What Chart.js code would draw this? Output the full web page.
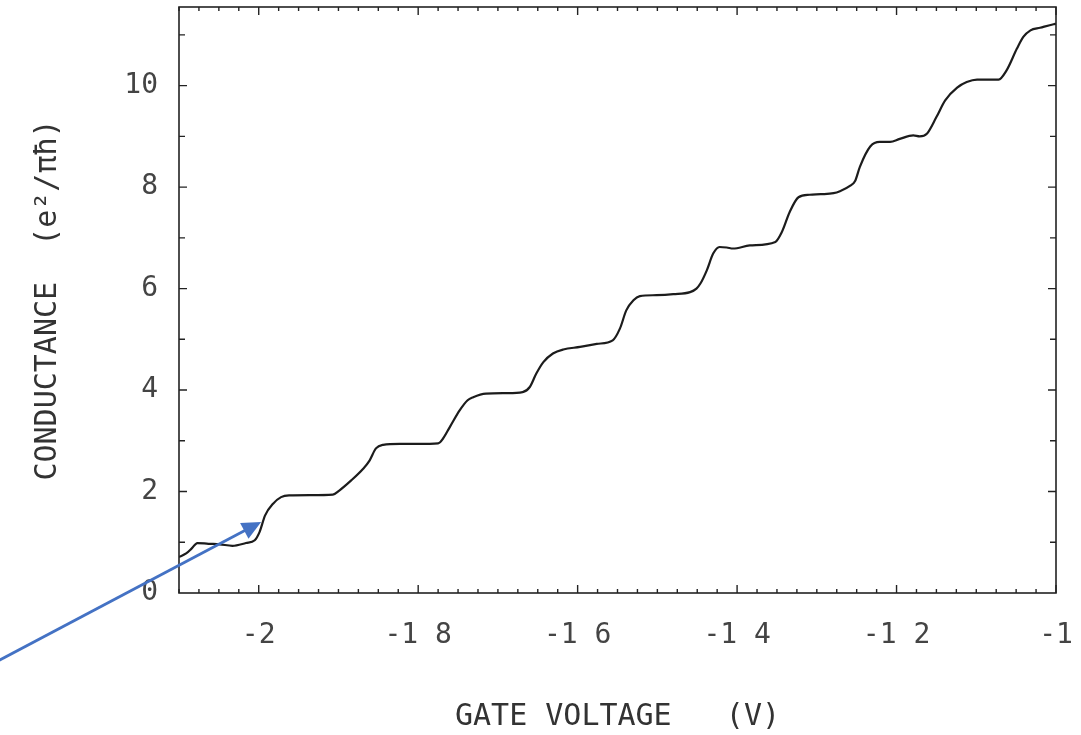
<!DOCTYPE html>
<html lang="en">

<head>
    <meta charset="UTF-8">
    <title>Conductance vs gate voltage</title>
    <script src="https://cdn.jsdelivr.net/npm/chart.js"></script>
    <style>
        body { margin: 0; background: #fff; }
    </style>
</head>

<body>
    <canvas id="ChartConductance" width="1081" height="735"></canvas>
</body>

</html>
<script>

    // values
    const gateVoltage = [
        -2.100, -2.091, -2.084, -2.077, -2.063, -2.049, -2.033, -2.016, -2.005, -1.999,
        -1.992, -1.982, -1.972, -1.962, -1.935, -1.907, -1.899, -1.884, -1.869, -1.861,
        -1.853, -1.844, -1.823, -1.800, -1.775, -1.769, -1.760, -1.748, -1.738, -1.731,
        -1.715, -1.689, -1.669, -1.660, -1.652, -1.643, -1.631, -1.618, -1.597, -1.576,
        -1.556, -1.547, -1.539, -1.530, -1.522, -1.501, -1.480, -1.459, -1.451, -1.446,
        -1.438, -1.430, -1.422, -1.413, -1.405, -1.384, -1.352, -1.344, -1.334,
        -1.323, -1.309, -1.295, -1.279, -1.271, -1.258, -1.252, -1.246, -1.233, -1.221,
        -1.208, -1.196, -1.179, -1.171, -1.162, -1.150, -1.139, -1.124, -1.112, -1.099,
        -1.083, -1.072, -1.062, -1.049, -1.041, -1.032, -1.020, -1.003, -1.000
    ];
    const conductance = [
        0.71, 0.78, 0.88, 0.985, 0.97, 0.96, 0.93, 0.985, 1.04, 1.20,
        1.53, 1.76, 1.89, 1.925, 1.93, 1.94, 2.02, 2.22, 2.45, 2.61,
        2.85, 2.92, 2.94, 2.94, 2.95, 3.04, 3.28, 3.60, 3.80, 3.86,
        3.93, 3.94, 3.96, 4.06, 4.32, 4.55, 4.72, 4.80, 4.85, 4.91,
        4.98, 5.21, 5.57, 5.77, 5.85, 5.87, 5.89, 5.93, 6.00, 6.10,
        6.36, 6.69, 6.82, 6.81, 6.79, 6.85, 6.92, 7.11, 7.51,
        7.80, 7.85, 7.86, 7.88, 7.92, 8.03, 8.12, 8.40, 8.80, 8.89,
        8.89, 8.95, 9.02, 9.00, 9.05, 9.38, 9.71, 9.96, 10.07, 10.12,
        10.12, 10.12, 10.30, 10.73, 10.96, 11.09, 11.14, 11.21, 11.22
    ];

    const xTickValues = [-2, -1.8, -1.6, -1.4, -1.2, -1];
    const xTickLabels = ['-2', '-1 8', '-1 6', '-1 4', '-1 2', '-1'];
    const yTickValues = [0, 2, 4, 6, 8, 10];
    const yTickLabels = ['0', '2', '4', '6', '8', '10'];

    // blue arrow added on top of the figure (data coords: tail, tip)
    const arrowTail = [-2.326, -1.33];
    const arrowTip = [-1.997, 1.40];

    const monoFont = "'DejaVu Sans Mono', monospace";

    // frame with inward ticks like the old plotter output
    const frameTicks = {
        id: 'frameTicks',
        afterDraw(chart) {
            const ctx = chart.ctx;
            const a = chart.chartArea;
            const xs = chart.scales.x;
            const ys = chart.scales.y;
            ctx.save();
            ctx.strokeStyle = '#222';
            ctx.lineWidth = 1.6;
            ctx.strokeRect(a.left, a.top, a.right - a.left, a.bottom - a.top);

            ctx.lineWidth = 1.4;
            for (let i = 0; ; i++) {
                const v = xs.min + i * 0.025;
                if (v > xs.max + 1e-9) break;
                const px = xs.getPixelForValue(v);
                const major = Math.abs(v / 0.2 - Math.round(v / 0.2)) < 1e-6;
                const len = major ? 8 : 4;
                ctx.beginPath();
                ctx.moveTo(px, a.bottom);
                ctx.lineTo(px, a.bottom - len);
                ctx.moveTo(px, a.top);
                ctx.lineTo(px, a.top + len);
                ctx.stroke();
            }
            for (let v = 1; v < ys.max; v++) {
                const py = ys.getPixelForValue(v);
                const len = v % 2 == 0 ? 8 : 6;
                ctx.beginPath();
                ctx.moveTo(a.left, py);
                ctx.lineTo(a.left + len, py);
                ctx.moveTo(a.right, py);
                ctx.lineTo(a.right - len, py);
                ctx.stroke();
            }

            // arrow
            const x1 = xs.getPixelForValue(arrowTail[0]);
            const y1 = ys.getPixelForValue(arrowTail[1]);
            const x2 = xs.getPixelForValue(arrowTip[0]);
            const y2 = ys.getPixelForValue(arrowTip[1]);
            const ang = Math.atan2(y2 - y1, x2 - x1);
            const head = 19;
            const half = 9;
            ctx.strokeStyle = '#4472c4';
            ctx.fillStyle = '#4472c4';
            ctx.lineWidth = 2.8;
            ctx.beginPath();
            ctx.moveTo(x1, y1);
            ctx.lineTo(x2 - head * 0.8 * Math.cos(ang), y2 - head * 0.8 * Math.sin(ang));
            ctx.stroke();
            ctx.beginPath();
            ctx.moveTo(x2, y2);
            ctx.lineTo(x2 - head * Math.cos(ang) + half * Math.sin(ang), y2 - head * Math.sin(ang) - half * Math.cos(ang));
            ctx.lineTo(x2 - head * Math.cos(ang) - half * Math.sin(ang), y2 - head * Math.sin(ang) + half * Math.cos(ang));
            ctx.closePath();
            ctx.fill();
            ctx.restore();
        }
    };

    // no extra room for label overflow, the plot box is fixed
    function noPadding(scale) {
        scale.paddingTop = 0;
        scale.paddingBottom = 0;
        scale.paddingLeft = 0;
        scale.paddingRight = 0;
    }

    const data1 = {
        datasets: [{
            label: 'Conductance',
            data: gateVoltage.map((v, i) => ({ x: v, y: conductance[i] })),
            borderColor: '#1c1c1c',
            borderWidth: 2.2,
            pointRadius: 0,
            cubicInterpolationMode: 'monotone',
            fill: false
        }]
    };

    const config1 = {
        type: 'line',
        data: data1,
        options: {
            responsive: false,
            animation: false,
            layout: {
                padding: { left: 0, right: 25, top: 7, bottom: 0 }
            },
            plugins: {
                legend: { display: false },
                tooltip: { enabled: false }
            },
            scales: {
                x: {
                    type: 'linear',
                    min: -2.1,
                    max: -1.0,
                    afterBuildTicks: scale => {
                        scale.ticks = xTickValues.map(v => ({ value: v }));
                    },
                    afterFit: scale => {
                        scale.height = 142;
                        noPadding(scale);
                    },
                    grid: { display: false, drawTicks: false },
                    border: { display: false },
                    ticks: {
                        padding: 26,
                        color: '#444',
                        font: { family: monoFont, size: 28 },
                        maxRotation: 0,
                        autoSkip: false,
                        callback: (value, index) => xTickLabels[index]
                    },
                    title: {
                        display: true,
                        text: 'GATE VOLTAGE   (V)',
                        color: '#333',
                        font: { family: monoFont, size: 30 },
                        padding: 0
                    }
                },
                y: {
                    type: 'linear',
                    min: 0,
                    max: 11.55,
                    afterBuildTicks: scale => {
                        scale.ticks = yTickValues.map(v => ({ value: v }));
                    },
                    afterFit: scale => {
                        scale.width = 179;
                        noPadding(scale);
                    },
                    grid: { display: false, drawTicks: false },
                    border: { display: false },
                    ticks: {
                        padding: 21,
                        color: '#444',
                        font: { family: monoFont, size: 28 },
                        autoSkip: false,
                        callback: (value, index) => yTickLabels[index]
                    },
                    title: {
                        display: true,
                        text: 'CONDUCTANCE  (e²/πħ)',
                        color: '#333',
                        font: { family: monoFont, size: 30 },
                        padding: { top: 30, bottom: 0 }
                    }
                }
            }
        },
        plugins: [frameTicks]
    };

    const myChart = new Chart(
        document.getElementById('ChartConductance'),
        config1
    );

</script>
